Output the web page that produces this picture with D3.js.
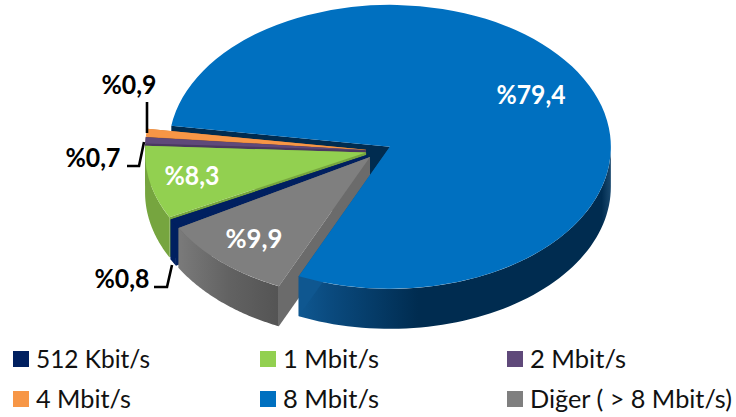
<!DOCTYPE html>
<html><head><meta charset="utf-8">
<script src="https://cdn.jsdelivr.net/npm/d3@7"></script>
<style>html,body{margin:0;padding:0;background:#fff}svg{display:block}text{font-family:Lato,"Noto Sans",sans-serif}</style>
</head><body><div id="c"></div>
<script>
const categories = ["512 Kbit/s","1 Mbit/s","2 Mbit/s","4 Mbit/s","8 Mbit/s","Diğer ( > 8 Mbit/s)"];
const values = [0.8,8.3,0.7,0.9,79.4,9.9];
const valueLabels = ["%0,8","%8,3","%0,7","%0,9","%79,4","%9,9"];
const colors = ["#002060","#92d050","#5f497a","#f79646","#0070c0","#7f7f7f"];
const wallColors = ["#002060","#76a53f","#4a3860","#c9772f","#002c50","#6b6b6b"];

const W=736,H=417, cx=378.6, cy=150.8, rx=221, ry=142, depth=40, explode=0.058;
const rad=d=>d*Math.PI/180, startDeg=240;
const svg=d3.select("#c").append("svg").attr("width",W).attr("height",H);
const defs=svg.append("defs");
function grad(id,x1,x2,stops){
  const g=defs.append("linearGradient").attr("id",id).attr("gradientUnits","userSpaceOnUse")
    .attr("x1",x1).attr("x2",x2).attr("y1",0).attr("y2",0);
  stops.forEach(s=>g.append("stop").attr("offset",s[0]).attr("stop-color",s[1]));
}
grad("gBlue",300,611,[[0,"#0f5790"],[0.1,"#0a4a7e"],[0.38,"#002c50"],[0.97,"#002c50"],[1,"#1b4a70"]]);
grad("gGray",179,279,[[0,"#7a7a7a"],[0.5,"#626262"],[1,"#545454"]]);

const arcs=d3.pie().sort(null).value(d=>d).startAngle(rad(startDeg)).endAngle(rad(startDeg+360))(values);
const arcGen=d3.arc().innerRadius(0).outerRadius(1);
const line=d3.line();
arcs.forEach(a=>{
  const m=(a.startAngle+a.endAngle)/2;
  a.ox=cx+explode*rx*Math.sin(m); a.oy=cy-explode*ry*Math.cos(m);
  a.pt=t=>[a.ox+rx*Math.sin(t),a.oy-ry*Math.cos(t)];
});
const layer=svg.append("g");
function cutWall(a,t,fill){
  const p=a.pt(t),c=[a.ox,a.oy];
  layer.append("path").attr("d",line([c,p,[p[0],p[1]+depth],[c[0],c[1]+depth]])+"Z").attr("fill",fill);
}
function outerWall(a,fill){
  [[rad(90),rad(270)],[rad(450),rad(630)]].forEach(([lo,hi])=>{
    const s=Math.max(a.startAngle,lo),e=Math.min(a.endAngle,hi);
    if(e<=s) return;
    const ts=d3.range(0,61).map(i=>s+(e-s)*i/60);
    const up=ts.map(a.pt), down=up.map(p=>[p[0],p[1]+depth]).reverse();
    layer.append("path").attr("d",line(up.concat(down))+"Z").attr("fill",fill);
  });
}
function topFace(a,i){
  layer.append("path").attr("d",arcGen(a))
    .attr("transform",`translate(${a.ox},${a.oy}) scale(${rx},${ry})`)
    .attr("fill",colors[i]);
}
// back wall of the big slice first
cutWall(arcs[4],arcs[4].startAngle,wallColors[4]);
[3,2,1,0,5].forEach(i=>{
  const a=arcs[i];
  cutWall(a,a.startAngle,wallColors[i]);
  cutWall(a,a.endAngle,wallColors[i]);
  outerWall(a,i==5?"url(#gGray)":wallColors[i]);
  topFace(a,i);
});
outerWall(arcs[4],"url(#gBlue)");
cutWall(arcs[4],arcs[4].endAngle,"#0f5790");
topFace(arcs[4],4);

// leader lines
[[[147,102],[147,133]],[[144,142],[139,166],[127,166]],[[172,265],[167,287],[154,287]]].forEach(l=>
  svg.append("path").attr("d",line(l)).attr("fill","none").attr("stroke","#000").attr("stroke-width",2.6));

// value labels
const labelPos=[[122,279,"#000"],[192,176,"#fff"],[93,158,"#000"],[129,85,"#000"],[531,95,"#fff"],[254,239,"#fff"]];
const labelW=[55,55,55,55,69,57];
valueLabels.forEach((t,i)=>{
  svg.append("text").attr("x",labelPos[i][0]).attr("y",labelPos[i][1]).attr("dy","0.36em")
   .attr("text-anchor","middle").attr("font-size",26).attr("font-weight",700)
   .attr("fill",labelPos[i][2]).attr("textLength",labelW[i]).attr("lengthAdjust","spacingAndGlyphs").text(t);
});

// legend
const colX=[13,260,507], rowY=[359,399], textW=[114,96,96,95,96,202];
categories.forEach((t,i)=>{
  const x=colX[i%3], y=rowY[Math.floor(i/3)];
  svg.append("rect").attr("x",x).attr("y",y-8).attr("width",16).attr("height",16).attr("fill",colors[i]);
  svg.append("text").attr("x",x+23).attr("y",y).attr("dy","0.36em").attr("font-size",25).attr("fill","#111")
    .attr("textLength",textW[i]).attr("lengthAdjust","spacingAndGlyphs").text(t);
});
</script></body></html>
